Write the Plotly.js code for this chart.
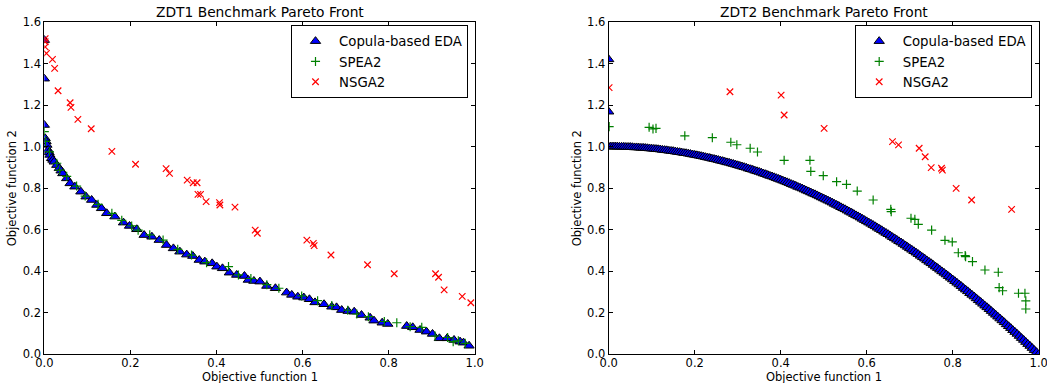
<!DOCTYPE html>
<html>
<head>
<meta charset="utf-8">
<script src="https://cdn.plot.ly/plotly-3.0.1.min.js"></script>
<style>
html,body{margin:0;padding:0;background:#fff;overflow:hidden;}
#chart{width:1060px;height:383px;}
</style>
</head>
<body>
<div id="chart"></div>
<script>
// ---------- Data ----------
const seriesNames = ["Copula-based EDA", "SPEA2", "NSGA2"];
const plotTitles = ["ZDT1 Benchmark Pareto Front", "ZDT2 Benchmark Pareto Front"];
const xAxisLabel = "Objective function 1";
const yAxisLabel = "Objective function 2";
const xTickVals = [0.0, 0.2, 0.4, 0.6, 0.8, 1.0];
const yTickVals = [0.0, 0.2, 0.4, 0.6, 0.8, 1.0, 1.2, 1.4, 1.6];

// ZDT1 - Copula-based EDA
const zdt1EdaX = [0.000,0.000,0.000,0.002,0.004,0.006,0.009,0.011,0.013,0.017,0.020,0.023,0.029,0.035,0.039,0.043,0.052,0.060,0.071,0.085,0.097,0.110,0.122,0.133,0.145,0.164,0.184,0.198,0.215,0.232,0.250,0.267,0.284,0.300,0.315,0.331,0.345,0.360,0.373,0.390,0.401,0.414,0.430,0.447,0.465,0.474,0.487,0.501,0.517,0.537,0.563,0.575,0.589,0.603,0.616,0.629,0.650,0.668,0.679,0.691,0.706,0.720,0.737,0.757,0.766,0.785,0.798,0.842,0.856,0.873,0.888,0.902,0.918,0.936,0.952,0.966,0.974,0.987];
const zdt1EdaY = [1.513,1.327,1.104,1.040,1.025,1.008,0.984,0.972,0.960,0.944,0.936,0.927,0.911,0.896,0.884,0.871,0.847,0.823,0.807,0.783,0.759,0.743,0.719,0.703,0.679,0.663,0.634,0.618,0.602,0.574,0.566,0.550,0.526,0.510,0.494,0.480,0.473,0.454,0.446,0.438,0.422,0.414,0.393,0.382,0.377,0.358,0.353,0.350,0.329,0.318,0.297,0.286,0.277,0.273,0.265,0.250,0.241,0.229,0.226,0.213,0.208,0.205,0.189,0.176,0.162,0.152,0.146,0.136,0.130,0.117,0.109,0.098,0.077,0.077,0.069,0.061,0.056,0.041];

// ZDT1 - SPEA2
const zdt1SpeaX = [0.000,0.003,0.012,0.029,0.036,0.052,0.075,0.095,0.125,0.157,0.180,0.203,0.218,0.245,0.276,0.310,0.342,0.377,0.428,0.451,0.480,0.517,0.545,0.598,0.635,0.668,0.705,0.726,0.753,0.790,0.819,0.850,0.877,0.908,0.937,0.950,0.962,0.978];
const zdt1SpeaY = [1.072,1.025,0.975,0.920,0.887,0.857,0.810,0.762,0.722,0.679,0.645,0.618,0.598,0.575,0.550,0.505,0.478,0.441,0.422,0.382,0.365,0.335,0.318,0.281,0.258,0.235,0.212,0.194,0.181,0.158,0.152,0.133,0.130,0.088,0.081,0.061,0.065,0.053];

// ZDT1 - NSGA2
const zdt1NsgaX = [0.002,0.002,0.002,0.005,0.019,0.024,0.032,0.060,0.062,0.078,0.109,0.157,0.212,0.283,0.291,0.332,0.346,0.355,0.357,0.363,0.376,0.407,0.408,0.443,0.490,0.495,0.610,0.625,0.627,0.666,0.751,0.813,0.909,0.916,0.929,0.971,0.991];
const zdt1NsgaY = [1.520,1.505,1.480,1.449,1.420,1.377,1.269,1.211,1.189,1.131,1.086,0.977,0.915,0.894,0.871,0.839,0.826,0.826,0.770,0.770,0.735,0.730,0.719,0.709,0.598,0.583,0.550,0.534,0.523,0.478,0.431,0.388,0.388,0.371,0.310,0.279,0.248];

// ZDT2 - Copula-based EDA (dense front, two outliers at f1 = 0)
const zdt2EdaX = [0.000,0.000,
  0.000,0.005,0.010,0.015,0.020,0.025,0.030,0.035,0.040,0.045,0.050,0.055,0.060,0.065,0.070,0.075,0.080,0.085,0.090,0.095,
  0.100,0.105,0.110,0.115,0.120,0.125,0.130,0.135,0.140,0.145,0.150,0.155,0.160,0.165,0.170,0.175,0.180,0.185,0.190,0.195,
  0.200,0.205,0.210,0.215,0.220,0.225,0.230,0.235,0.240,0.245,0.250,0.255,0.260,0.265,0.270,0.275,0.280,0.285,0.290,0.295,
  0.300,0.305,0.310,0.315,0.320,0.325,0.330,0.335,0.340,0.345,0.350,0.355,0.360,0.365,0.370,0.375,0.380,0.385,0.390,0.395,
  0.400,0.405,0.410,0.415,0.420,0.425,0.430,0.435,0.440,0.445,0.450,0.455,0.460,0.465,0.470,0.475,0.480,0.485,0.490,0.495,
  0.500,0.505,0.510,0.515,0.520,0.525,0.530,0.535,0.540,0.545,0.550,0.555,0.560,0.565,0.570,0.575,0.580,0.585,0.590,0.595,
  0.600,0.605,0.610,0.615,0.620,0.625,0.630,0.635,0.640,0.645,0.650,0.655,0.660,0.665,0.670,0.675,0.680,0.685,0.690,0.695,
  0.700,0.705,0.710,0.715,0.720,0.725,0.730,0.735,0.740,0.745,0.750,0.755,0.760,0.765,0.770,0.775,0.780,0.785,0.790,0.795,
  0.800,0.805,0.810,0.815,0.820,0.825,0.830,0.835,0.840,0.845,0.850,0.855,0.860,0.865,0.870,0.875,0.880,0.885,0.890,0.895,
  0.900,0.905,0.910,0.915,0.920,0.925,0.930,0.935,0.940,0.945,0.950,0.955,0.960,0.965,0.970,0.975,0.980,0.985,0.990,0.995,1.000];
const zdt2EdaY = [1.420,1.168,
  1.000,1.000,1.000,1.000,1.000,0.999,0.999,0.999,0.998,0.998,0.998,0.997,0.996,0.996,0.995,0.994,0.994,0.993,0.992,0.991,
  0.990,0.989,0.988,0.987,0.986,0.984,0.983,0.982,0.980,0.979,0.978,0.976,0.974,0.973,0.971,0.969,0.968,0.966,0.964,0.962,
  0.960,0.958,0.956,0.954,0.952,0.949,0.947,0.945,0.942,0.940,0.938,0.935,0.932,0.930,0.927,0.924,0.922,0.919,0.916,0.913,
  0.910,0.907,0.904,0.901,0.898,0.894,0.891,0.888,0.884,0.881,0.878,0.874,0.870,0.867,0.863,0.859,0.856,0.852,0.848,0.844,
  0.840,0.836,0.832,0.828,0.824,0.819,0.815,0.811,0.806,0.802,0.798,0.793,0.788,0.784,0.779,0.774,0.770,0.765,0.760,0.755,
  0.750,0.745,0.740,0.735,0.730,0.724,0.719,0.714,0.708,0.703,0.698,0.692,0.686,0.681,0.675,0.669,0.664,0.658,0.652,0.646,
  0.640,0.634,0.628,0.622,0.616,0.609,0.603,0.597,0.590,0.584,0.578,0.571,0.564,0.558,0.551,0.544,0.538,0.531,0.524,0.517,
  0.510,0.503,0.496,0.489,0.482,0.474,0.467,0.460,0.452,0.445,0.438,0.430,0.422,0.415,0.407,0.399,0.392,0.384,0.376,0.368,
  0.360,0.352,0.344,0.336,0.328,0.319,0.311,0.303,0.294,0.286,0.278,0.269,0.260,0.252,0.243,0.234,0.226,0.217,0.208,0.199,
  0.190,0.181,0.172,0.163,0.154,0.144,0.135,0.126,0.116,0.107,0.098,0.088,0.078,0.069,0.059,0.049,0.040,0.030,0.020,0.010,0.000];

// ZDT2 - SPEA2
const zdt2SpeaX = [0.001,0.094,0.103,0.110,0.177,0.241,0.284,0.298,0.329,0.346,0.408,0.468,0.470,0.499,0.530,0.553,0.578,0.615,0.656,0.657,0.703,0.712,0.720,0.751,0.782,0.799,0.813,0.829,0.830,0.846,0.875,0.906,0.908,0.916,0.953,0.968,0.970,0.970];
const zdt2SpeaY = [1.096,1.093,1.085,1.088,1.052,1.043,1.021,1.009,0.992,0.974,0.934,0.934,0.881,0.860,0.831,0.818,0.786,0.743,0.698,0.687,0.655,0.650,0.626,0.598,0.549,0.541,0.489,0.475,0.470,0.446,0.406,0.395,0.321,0.306,0.294,0.294,0.257,0.218];

// ZDT2 - NSGA2
const zdt2NsgaX = [0.001,0.282,0.401,0.408,0.501,0.660,0.674,0.722,0.736,0.750,0.774,0.776,0.808,0.844,0.937];
const zdt2NsgaY = [1.284,1.264,1.248,1.152,1.088,1.024,1.008,0.992,0.951,0.899,0.896,0.887,0.799,0.743,0.698];

// ---------- Styles ----------
const FONT = "DejaVu Sans, Liberation Sans, sans-serif";
const styleEda = {symbol: "triangle-up", size: 9, color: "#0000ff", line: {color: "#000000", width: 1}};
const styleSpea = {symbol: "cross-thin", size: 6.5, color: "#008000", line: {color: "#008000", width: 1.2}};
const styleNsga = {symbol: "x-thin", size: 6.5, color: "#ff0000", line: {color: "#ff0000", width: 1.2}};

function tr(x, y, name, marker, ax, leg) {
  return {type: "scatter", mode: "markers", x: x, y: y, name: name, marker: marker,
          xaxis: ax[0], yaxis: ax[1], legend: leg, showlegend: true};
}

const data = [
  tr(zdt1EdaX, zdt1EdaY, seriesNames[0], styleEda, ["x", "y"], "legend"),
  tr(zdt1SpeaX, zdt1SpeaY, seriesNames[1], styleSpea, ["x", "y"], "legend"),
  tr(zdt1NsgaX, zdt1NsgaY, seriesNames[2], styleNsga, ["x", "y"], "legend"),
  tr(zdt2EdaX, zdt2EdaY, seriesNames[0], styleEda, ["x2", "y2"], "legend2"),
  tr(zdt2SpeaX, zdt2SpeaY, seriesNames[1], styleSpea, ["x2", "y2"], "legend2"),
  tr(zdt2NsgaX, zdt2NsgaY, seriesNames[2], styleNsga, ["x2", "y2"], "legend2")
];

// The figure is a little wider than the 1047px window, like the reference
// whose right-most tick label is cut by the picture edge.
const W = 1060, H = 383;
const xDom1 = [44.3 / W, 474.7 / W];
const xDom2 = [608.7 / W, 1038.7 / W];
const yDom = [1 - 354.3 / H, 1 - 22 / H];

function xAxis(dom, anchor) {
  return {domain: dom, anchor: anchor, range: [0, 1], tickvals: xTickVals, tickformat: ".1f",
    ticks: "inside", ticklen: 4, tickwidth: 1, tickcolor: "#000", mirror: "allticks",
    showline: true, linecolor: "#000", linewidth: 1, showgrid: false, zeroline: false,
    ticklabelstandoff: -2, ticklabeloverflow: "allow",
    tickfont: {family: FONT, size: 11.5, color: "#000"}};
}
function yAxis(anchor) {
  return {domain: yDom, anchor: anchor, range: [0, 1.6], tickvals: yTickVals, tickformat: ".1f",
    ticks: "inside", ticklen: 4, tickwidth: 1, tickcolor: "#000", mirror: "allticks",
    showline: true, linecolor: "#000", linewidth: 1, showgrid: false, zeroline: false,
    ticklabeloverflow: "allow",
    tickfont: {family: FONT, size: 11.5, color: "#000"},
    title: {text: yAxisLabel, font: {family: FONT, size: 11.5, color: "#000"}, standoff: 3}};
}
function legendBox(xr) {
  return {x: xr, y: 1 - 25 / H, xanchor: "right", yanchor: "top", bgcolor: "#fff",
    bordercolor: "#000", borderwidth: 1, itemwidth: 37,
    font: {family: FONT, size: 13.3, color: "#000"}};
}
function textAnn(text, xc, ypx, size) {
  return {text: text, xref: "paper", yref: "paper", x: xc, y: 1 - ypx / H,
    xanchor: "center", yanchor: "middle", showarrow: false, borderpad: 0,
    font: {family: FONT, size: size, color: "#000"}};
}
const xc1 = (xDom1[0] + xDom1[1]) / 2, xc2 = (xDom2[0] + xDom2[1]) / 2;

const layout = {
  width: W, height: H,
  margin: {l: 0, r: 0, t: 0, b: 0},
  paper_bgcolor: "#fff", plot_bgcolor: "#fff",
  font: {family: FONT, color: "#000"},
  showlegend: true,
  xaxis: xAxis(xDom1, "y"),
  yaxis: yAxis("x"),
  xaxis2: xAxis(xDom2, "y2"),
  yaxis2: yAxis("x2"),
  legend: legendBox(468 / W),
  legend2: legendBox(1031.7 / W),
  annotations: [
    textAnn(plotTitles[0], xc1, 12, 13.8),
    textAnn(plotTitles[1], xc2, 12, 13.8),
    textAnn(xAxisLabel, xc1, 377, 11.5),
    textAnn(xAxisLabel, xc2, 377, 11.5)
  ]
};

Plotly.newPlot("chart", data, layout, {staticPlot: true, displayModeBar: false});
</script>
</body>
</html>
